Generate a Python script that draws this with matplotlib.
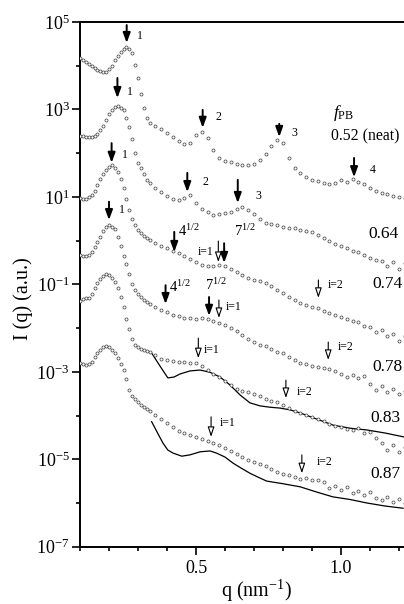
import matplotlib
matplotlib.use('Agg')
import matplotlib.pyplot as plt
from matplotlib.ticker import FixedLocator, FixedFormatter, NullFormatter

plt.rcParams['font.family'] = ['Liberation Serif', 'DejaVu Serif']
plt.rcParams['mathtext.fontset'] = 'custom'
plt.rcParams['mathtext.rm'] = 'Liberation Serif'
plt.rcParams['mathtext.it'] = 'Liberation Serif:italic'
plt.rcParams['mathtext.bf'] = 'Liberation Serif:bold'

# ---------------- data (q in nm^-1, log10 of intensity) ----------------
q = [0.10, 0.11, 0.12, 0.13, 0.14, 0.15, 0.16, 0.17, 0.18, 0.19, 0.20, 0.21,
     0.22, 0.23, 0.24, 0.25, 0.26, 0.27, 0.28, 0.29, 0.30, 0.31, 0.32, 0.33, 0.34,
     0.36, 0.38, 0.40, 0.42, 0.44, 0.46, 0.48, 0.50, 0.52, 0.54, 0.56, 0.58,
     0.60, 0.62, 0.64, 0.66, 0.68, 0.70, 0.72, 0.74, 0.76, 0.78, 0.80, 0.82,
     0.84, 0.86, 0.88, 0.90, 0.92, 0.94, 0.96, 0.98, 1.00, 1.02, 1.04, 1.06,
     1.08, 1.10, 1.12, 1.14, 1.16, 1.18, 1.20, 1.22]

logI_052 = [4.18, 4.13, 4.09, 4.04, 3.99, 3.95, 3.90, 3.88, 3.86, 3.86, 3.93, 3.99,
            4.13, 4.22, 4.31, 4.38, 4.43, 4.38, 4.29, 4.02, 3.72, 3.35, 3.03, 2.80, 2.69,
            2.62, 2.55, 2.46, 2.37, 2.28, 2.20, 2.23, 2.42, 2.48, 2.35, 2.07, 1.89,
            1.82, 1.79, 1.76, 1.74, 1.73, 1.75, 1.84, 1.98, 2.16, 2.31, 2.23, 1.89,
            1.66, 1.55, 1.46, 1.39, 1.36, 1.32, 1.29, 1.32, 1.39, 1.34, 1.41, 1.34,
            1.29, 1.20, 1.13, 1.09, 1.07, 1.02, 1.00, 0.97]

logI_064 = [2.39, 2.39, 2.38, 2.37, 2.37, 2.39, 2.44, 2.52, 2.63, 2.77, 2.90, 2.99,
            3.06, 3.08, 3.03, 2.98, 2.80, 2.60, 2.32, 2.00, 1.77, 1.65, 1.52, 1.39, 1.32,
            1.20, 1.11, 1.02, 0.96, 0.93, 0.97, 1.04, 0.86, 0.72, 0.65, 0.59, 0.61,
            0.63, 0.66, 0.72, 0.77, 0.70, 0.61, 0.49, 0.41, 0.38, 0.35, 0.32, 0.30,
            0.28, 0.25, 0.23, 0.20, 0.14, 0.06, -0.01, -0.07, -0.12, -0.17, -0.23, -0.27,
            -0.33, -0.39, -0.44, -0.47, -0.58, -0.49, -0.65, -0.51]

logI_074 = [0.97, 0.95, 0.95, 0.99, 1.04, 1.13, 1.27, 1.41, 1.52, 1.61, 1.68, 1.73,
            1.66, 1.57, 1.41, 1.20, 0.95, 0.70, 0.49, 0.36, 0.24, 0.17, 0.10, 0.06, 0.01,
            -0.06, -0.12, -0.18, -0.24, -0.29, -0.36, -0.42, -0.49, -0.56, -0.58, -0.58, -0.56,
            -0.59, -0.65, -0.72, -0.79, -0.86, -0.89, -0.92, -0.97, -1.04, -1.13, -1.20, -1.29,
            -1.36, -1.43, -1.47, -1.52, -1.55, -1.61, -1.66, -1.70, -1.75, -1.79, -1.84, -1.86,
            -1.95, -1.98, -2.09, -2.04, -2.18, -2.14, -2.30, -2.18]

logI_078 = [-0.33, -0.35, -0.36, -0.33, -0.25, -0.15, -0.03, 0.08, 0.22, 0.31, 0.36, 0.32,
            0.27, 0.08, -0.12, -0.35, -0.54, -0.76, -0.99, -1.13, -1.22, -1.29, -1.36, -1.40, -1.45,
            -1.52, -1.59, -1.64, -1.69, -1.72, -1.76, -1.78, -1.79, -1.78, -1.79, -1.83, -1.88,
            -1.93, -1.99, -2.07, -2.16, -2.25, -2.32, -2.38, -2.42, -2.48, -2.54, -2.57, -2.66,
            -2.73, -2.80, -2.82, -2.86, -2.88, -2.91, -2.94, -2.98, -3.05, -3.12, -3.07, -3.14,
            -3.10, -3.28, -3.42, -3.33, -3.46, -3.39, -3.51, -3.44]

logI_083 = [-1.38, -1.34, -1.32, -1.31, -1.22, -1.08, -0.97, -0.88, -0.81, -0.76, -0.79, -0.86,
            -0.95, -1.08, -1.29, -1.52, -1.79, -2.02, -2.25, -2.39, -2.43, -2.47, -2.49, -2.52, -2.55,
            -2.62, -2.70, -2.74, -2.75, -2.77, -2.78, -2.79, -2.80, -2.87, -2.96, -3.05, -3.12,
            -3.21, -3.30, -3.39, -3.43, -3.46, -3.51, -3.55, -3.62, -3.67, -3.69, -3.76, -3.83,
            -3.90, -3.94, -3.99, -4.03, -4.08, -4.13, -4.19, -4.24, -4.26, -4.31, -4.33, -4.29,
            -4.40, -4.38, -4.52, -4.63, -4.79, -4.68, -4.84, -4.72]

logI_087 = [-2.80, -2.82, -2.85, -2.82, -2.78, -2.66, -2.57, -2.50, -2.43, -2.41, -2.43, -2.49,
            -2.57, -2.69, -2.82, -2.96, -3.17, -3.42, -3.55, -3.62, -3.69, -3.76, -3.81, -3.85, -3.90,
            -3.99, -4.08, -4.17, -4.26, -4.36, -4.40, -4.45, -4.49, -4.54, -4.58, -4.62, -4.68,
            -4.74, -4.81, -4.88, -4.95, -5.02, -5.06, -5.11, -5.16, -5.22, -5.29, -5.34, -5.36,
            -5.41, -5.45, -5.43, -5.48, -5.48, -5.52, -5.66, -5.61, -5.70, -5.64, -5.77, -5.73,
            -5.82, -5.75, -5.89, -5.93, -5.87, -5.98, -5.91, -6.00]

# model curves (solid lines)
q_fit_083 = [0.347, 0.376, 0.403, 0.424, 0.445, 0.479, 0.514, 0.548, 0.583, 0.617, 0.652,
             0.686, 0.721, 0.755, 0.790, 0.824, 0.859, 0.916, 0.973, 1.031, 1.089, 1.152, 1.217]
logI_fit_083 = [-2.57, -2.87, -3.14, -3.12, -3.05, -2.98, -2.96, -3.01, -3.12, -3.30, -3.53,
                -3.71, -3.78, -3.81, -3.83, -3.87, -3.94, -4.08, -4.22, -4.29, -4.33, -4.40, -4.49]
q_fit_087 = [0.347, 0.366, 0.386, 0.403, 0.421, 0.451, 0.479, 0.514, 0.548, 0.571, 0.600,
             0.628, 0.655, 0.686, 0.714, 0.744, 0.772, 0.800, 0.859, 0.916, 0.972, 1.031,
             1.089, 1.152, 1.214]
logI_fit_087 = [-4.14, -4.38, -4.63, -4.79, -4.86, -4.93, -4.90, -4.83, -4.81, -4.86, -4.95,
                -5.09, -5.20, -5.32, -5.41, -5.50, -5.53, -5.56, -5.63, -5.75, -5.86, -5.92,
                -6.00, -6.07, -6.12]

series = [logI_052, logI_064, logI_074, logI_078, logI_083, logI_087]
fraction_labels = ['0.52 (neat)', '0.64', '0.74', '0.78', '0.83', '0.87']

# peak markers: (q, log10 I at arrow top, log10 I at arrow tip)
filled_arrows = [(0.261, 4.93, 4.52), (0.229, 3.72, 3.26), (0.209, 2.23, 1.78),
                 (0.200, 0.89, 0.47), (0.523, 2.99, 2.58), (0.787, 2.67, 2.37),
                 (1.045, 1.89, 1.45), (0.470, 1.55, 1.11), (0.644, 1.39, 0.86),
                 (0.425, 0.20, -0.26), (0.597, -0.06, -0.51), (0.395, -1.02, -1.45),
                 (0.545, -1.29, -1.72)]
hollow_arrows = [(0.577, -0.01, -0.49), (0.922, -0.90, -1.31), (0.579, -1.36, -1.77),
                 (0.956, -2.32, -2.73), (0.508, -2.23, -2.69), (0.810, -3.19, -3.60),
                 (0.552, -4.03, -4.49), (0.865, -4.90, -5.32)]
# annotation texts: (text, q, log10 I, fontsize, ha)
texts = [('1', 0.297, 4.68, 8.5, 'left'), ('1', 0.262, 3.40, 8.5, 'left'),
         ('1', 0.245, 1.96, 8.5, 'left'), ('1', 0.234, 0.70, 8.5, 'left'),
         ('2', 0.566, 2.83, 8.5, 'left'), ('3', 0.830, 2.46, 8.5, 'left'),
         ('4', 1.100, 1.61, 8.5, 'left'), ('2', 0.522, 1.34, 8.5, 'left'),
         ('3', 0.705, 1.02, 8.5, 'left'),
         (r'$4^{1/2}$', 0.438, 0.22, 10.5, 'left'), (r'$7^{1/2}$', 0.631, 0.22, 10.5, 'left'),
         (r'$4^{1/2}$', 0.407, -1.06, 10.5, 'left'), (r'$7^{1/2}$', 0.531, -1.02, 10.5, 'left'),
         ('i=1', 0.562, -0.25, 8.5, 'right'), ('i=2', 0.955, -1.02, 8.5, 'left'),
         ('i=1', 0.603, -1.52, 8.5, 'left'), ('i=2', 0.990, -2.43, 8.5, 'left'),
         ('i=1', 0.528, -2.50, 8.5, 'left'), ('i=2', 0.848, -3.46, 8.5, 'left'),
         ('i=1', 0.583, -4.17, 8.5, 'left'), ('i=2', 0.917, -5.06, 8.5, 'left')]
label_pos = [(0.966, 2.38), (1.093, 0.15), (1.107, -1.00), (1.107, -2.89),
             (1.103, -4.06), (1.103, -5.34)]
label_size = [11.3, 12.5, 12.5, 12.5, 12.5, 12.5]

# ---------------- figure ----------------
W, H = 404, 604
fig = plt.figure(figsize=(W / 100, H / 100), dpi=100)
ax = fig.add_axes([80 / W, 1 - 546.7 / H, 1.15 * 290 / W, (546.7 - 22) / H])
ax.set_yscale('log')
ax.set_xlim(0.1, 1.25)
ax.set_ylim(1e-7, 1e5)

for s in series:
    ax.plot(q, [10 ** v for v in s], linestyle='none', marker='o', ms=2.2,
            mfc='white', mec='#4a4a4a', mew=0.55, zorder=3)
ax.plot(q_fit_083, [10 ** v for v in logI_fit_083], color='black', lw=0.9, zorder=2)
ax.plot(q_fit_087, [10 ** v for v in logI_fit_087], color='black', lw=0.9, zorder=2)

for x, top, tip in filled_arrows:
    ax.annotate('', xy=(x, 10 ** tip), xytext=(x, 10 ** top),
                arrowprops=dict(arrowstyle='-|>,head_length=0.6,head_width=0.22',
                                color='black', lw=1.4, shrinkA=0, shrinkB=0), zorder=5)
for x, top, tip in hollow_arrows:
    ax.annotate('', xy=(x, 10 ** tip), xytext=(x, 10 ** top),
                arrowprops=dict(arrowstyle='-|>,head_length=0.6,head_width=0.2',
                                facecolor='white', edgecolor='black', lw=0.8,
                                shrinkA=0, shrinkB=0), zorder=5)

for t, x, y, fs, ha in texts:
    ax.text(x, 10 ** y, t, fontsize=fs, ha=ha, va='center', zorder=6)

ax.text(0.972, 10 ** 2.92, r'$f_{\rm PB}$', fontsize=12.5, ha='left', va='center')
for lab, (x, y), fs in zip(fraction_labels, label_pos, label_size):
    ax.text(x, 10 ** y, lab, fontsize=fs, ha='left', va='center')

# ticks
major_y = [1e5, 1e3, 1e1, 1e-1, 1e-3, 1e-5, 1e-7]
major_y_labels = [r'$10^{5}$', r'$10^{3}$', r'$10^{1}$', r'$10^{-1}$',
                  r'$10^{-3}$', r'$10^{-5}$', r'$10^{-7}$']
ax.yaxis.set_major_locator(FixedLocator(major_y))
ax.yaxis.set_major_formatter(FixedFormatter(major_y_labels))
ax.yaxis.set_minor_locator(FixedLocator([1e4, 1e2, 1e0, 1e-2, 1e-4, 1e-6]))
ax.yaxis.set_minor_formatter(NullFormatter())
ax.xaxis.set_major_locator(FixedLocator([0.5, 1.0]))
ax.xaxis.set_major_formatter(FixedFormatter(['0.5', '1.0']))
ax.xaxis.set_minor_locator(FixedLocator([0.1, 0.2, 0.3, 0.4, 0.6, 0.7, 0.8, 0.9, 1.1, 1.2]))

ax.tick_params(which='major', direction='out', length=5.5, width=1.2, labelsize=13, pad=2)
ax.tick_params(which='minor', direction='out', length=3, width=1.2)
ax.tick_params(axis='x', which='major', pad=4)
for sp in ax.spines.values():
    sp.set_linewidth(1.4)
ax.spines['right'].set_visible(False)

fig.text(23 / W, 1 - 299 / H, 'I (q) (a.u.)', rotation=90, ha='center', va='center', fontsize=14.5)
fig.text(256 / W, 1 - 591 / H, r'q (nm$^{-1}$)', ha='center', va='center', fontsize=14.5)

fig.savefig('out.png', dpi=100)
